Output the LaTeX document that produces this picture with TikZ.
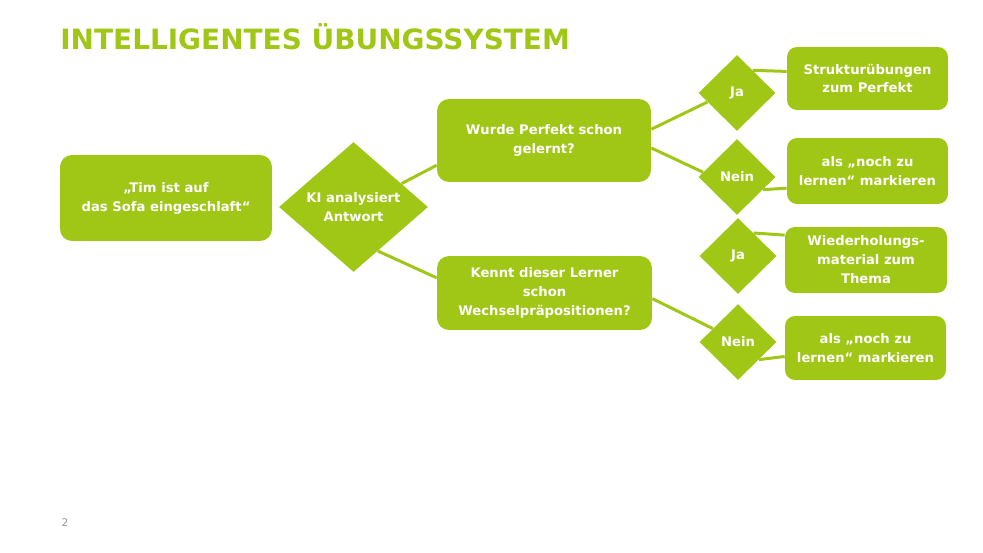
\documentclass[tikz,border=0pt]{standalone}
\usepackage{fontspec}
\setmainfont{DejaVu Sans}
\usetikzlibrary{shapes.geometric}
\definecolor{mygreen}{RGB}{160,198,22}
\definecolor{mygray}{RGB}{150,150,150}
\tikzstyle{greenbox} = [draw=none, fill=mygreen, rounded corners=0.24cm,
    inner sep=2, text=white, align=center,
    font=\fontsize{7.5}{10.8}\selectfont\bfseries]
\tikzstyle{answerbox} = [greenbox, rounded corners=0.2cm,
    minimum width=3.22cm, minimum height=1.3cm]
\tikzstyle{decision} = [diamond, draw=none, fill=mygreen, inner sep=0,
    aspect=1.15, text=white, align=center,
    font=\fontsize{7.5}{10.8}\selectfont\bfseries]
\tikzstyle{small} = [decision, minimum width=1.54cm, minimum height=1.52cm]
\tikzstyle{link} = [draw=mygreen, line width=1.7pt]

\begin{document}
\begin{tikzpicture}[x=0.02cm, y=-0.02cm]
\useasboundingbox (0,0) rectangle (983,553);

\node[anchor=base west, inner sep=0, text=mygreen, font=\fontsize{15.9}{18}\selectfont\bfseries] (title) at (60,50) {INTELLIGENTES ÜBUNGSSYSTEM};

%%% input and analysis
\node[greenbox, minimum width=4.24cm, minimum height=1.72cm] (satz) at (166,198) {„Tim ist auf\\das Sofa eingeschlaft“};
\node[decision, minimum width=2.98cm, minimum height=2.6cm] (ki) at (353.5,207) {KI analysiert\\Antwort};

%%% questions
\node[greenbox, minimum width=4.28cm, minimum height=1.66cm] (perfekt) at (544,140.5) {Wurde Perfekt schon\\gelernt?};
\node[greenbox, minimum width=4.3cm, minimum height=1.48cm] (wechsel) at (544.5,293) {Kennt dieser Lerner\\schon\\Wechselpräpositionen?};

%%% answers
\node[small] (ja1) at (737,93) {Ja};
\node[small] (nein1) at (737,177) {Nein};
\node[small] (ja2) at (738,256) {Ja};
\node[small] (nein2) at (738,342) {Nein};

\node[answerbox, minimum height=1.26cm] (struktur) at (867.5,78.5) {Strukturübungen\\zum Perfekt};
\node[answerbox, minimum height=1.32cm] (lernen1) at (867.5,171) {als „noch zu\\lernen“ markieren};
\node[answerbox, minimum width=3.24cm, minimum height=1.32cm] (wiederholung) at (866,260) {Wiederholungs-\\material zum\\Thema};
\node[answerbox, minimum height=1.28cm] (lernen2) at (865.5,348) {als „noch zu\\lernen“ markieren};

%%% connectors
\draw[link] (ki.26) -- (perfekt.193);
\draw[link] (ki.299) -- (wechsel.172);
\draw[link] (perfekt.6) -- (ja1.197);
\draw[link] (perfekt.-4) -- (nein1.172);
\draw[link] (ja1.55) -- (struktur.175);
\draw[link] (nein1.-26) -- (lernen1.192);
\draw[link] (ja2.56) -- (wiederholung.163);
\draw[link] (wechsel.-3) -- (nein2.152);
\draw[link] (nein2.-40) -- (lernen2.186);

\node[text=mygray, font=\fontsize{6}{7}\selectfont] (seite) at (65,523) {2};

\end{tikzpicture}
\end{document}
